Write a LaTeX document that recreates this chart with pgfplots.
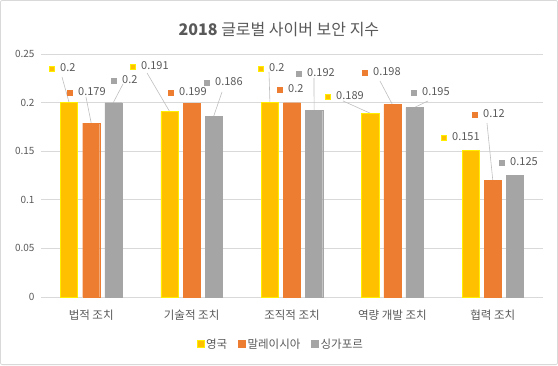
\documentclass[border=0pt]{standalone}
\usepackage{pgfplots}
\pgfplotsset{compat=1.18}
\usepackage{fontspec}
\setmainfont{Noto Sans CJK KR}
\definecolor{yel}{HTML}{FFC000}
\definecolor{ybd}{HTML}{FFEE00}
\definecolor{ora}{HTML}{ED7D31}
\definecolor{gry}{HTML}{A5A5A5}
\definecolor{txt}{HTML}{595959}
\definecolor{grd}{HTML}{D9D9D9}
\definecolor{lead}{HTML}{BFBFBF}
\newcommand{\sq}[1]{\textcolor{#1}{\rule{6pt}{6pt}}}
\newcommand{\ysq}{\textcolor{ybd}{\rule{6pt}{6pt}}\kern-5.2pt\raisebox{0.8pt}{\textcolor{yel}{\rule{4.4pt}{4.4pt}}}\kern0.8pt}
\begin{document}
\begin{tikzpicture}
\begin{axis}[name=ax,
  scale only axis, width=502pt, height=243pt,
  xmin=-0.5, xmax=4.5, ymin=0, ymax=0.25,
  enlargelimits=false, clip=false,
  xtick={0,1,2,3,4},
  xticklabels={법적 조치, 기술적 조치, 조직적 조치, 역량 개발 조치, 협력 조치},
  ytick={0,0.05,0.1,0.15,0.2,0.25},
  scaled y ticks=false,
  yticklabel style={/pgf/number format/fixed, /pgf/number format/precision=2},
  /pgf/number format/assume math mode=true,
  ymajorgrids, grid style={grd, line width=0.8pt},
  axis line style={draw=none},
  major tick length=0pt,
  tick label style={text=txt},
  xticklabel style={yshift=-9pt, font=\fontsize{11.5}{13}\selectfont},
  yticklabel style={xshift=-3pt, font=\fontsize{10}{12}\selectfont},
  title={\textbf{2018} 글로벌 사이버 보안 지수},
  title style={at={(0.474,1)}, anchor=center, yshift=18pt, font=\fontsize{16}{18}\selectfont, text=txt},
  legend style={at={(0.478,0)}, anchor=center, yshift=-47pt, draw=none, fill=none,
    legend columns=-1, font=\fontsize{11.5}{13}\selectfont, text=txt,
    /tikz/every even column/.append style={column sep=9pt}},
  legend image code/.code={\draw[#1, line width=0.6pt] (-2pt,-3.3pt) rectangle (4.6pt,3.3pt);},
  nodes near coords style={anchor=west, inner sep=0pt, xshift=-3pt, font=\fontsize{11}{13}\selectfont, text=txt},
]
% leader lines
\addplot[lead, line width=0.6pt, forget plot] coordinates {(-0.291,0.2264) (-0.22,0.2)};
\addplot[lead, line width=0.6pt, forget plot] coordinates {(-0.052,0.2058) (0,0.179)};
\addplot[lead, line width=0.6pt, forget plot] coordinates {(0.317,0.2192) (0.22,0.2)};
\addplot[lead, line width=0.6pt, forget plot] coordinates {(0.556,0.2305) (0.78,0.191)};
\addplot[lead, line width=0.6pt, forget plot] coordinates {(1.303,0.211) (1.22,0.186)};
\addplot[lead, line width=0.6pt, forget plot] coordinates {(1.771,0.2315) (1.78,0.2)};
\addplot[lead, line width=0.6pt, forget plot] coordinates {(2.219,0.2254) (2.22,0.192)};
\addplot[lead, line width=0.6pt, forget plot] coordinates {(2.508,0.2017) (2.78,0.189)};
\addplot[lead, line width=0.6pt, forget plot] coordinates {(2.876,0.2223) (3.0,0.198)};
\addplot[lead, line width=0.6pt, forget plot] coordinates {(3.355,0.2017) (3.22,0.195)};
\addplot[lead, line width=0.6pt, forget plot] coordinates {(3.942,0.179) (4.0,0.12)};
% bars
\addplot[ybar, bar width=0.17, bar shift=-0.22, fill=yel, draw=ybd, line width=0.6pt]
  coordinates {(0,0.2) (1,0.191) (2,0.2) (3,0.189) (4,0.151)};
\addlegendentry{영국}
\addplot[ybar, bar width=0.17, bar shift=0, fill=ora, draw=ora, line width=0.2pt]
  coordinates {(0,0.179) (1,0.199) (2,0.2) (3,0.198) (4,0.12)};
\addlegendentry{말레이시아}
\addplot[ybar, bar width=0.17, bar shift=0.22, fill=gry, draw=gry, line width=0.2pt]
  coordinates {(0,0.2) (1,0.186) (2,0.192) (3,0.195) (4,0.125)};
\addlegendentry{싱가포르}
% data labels
\addplot[draw=none, mark=none, forget plot, point meta=explicit symbolic,
  nodes near coords={\ysq\hspace{5pt}\pgfplotspointmeta}]
  coordinates {(-0.390,0.2356) [0.2] (0.416,0.2377) [0.191] (1.691,0.2356) [0.2] (2.359,0.2068) [0.189] (3.514,0.1646) [0.151]};
\addplot[draw=none, mark=none, forget plot, point meta=explicit symbolic,
  nodes near coords={\sq{ora}\hspace{5pt}\pgfplotspointmeta}]
  coordinates {(-0.211,0.211) [0.179] (0.795,0.211) [0.199] (1.880,0.214) [0.2] (2.727,0.2315) [0.198] (3.823,0.1883) [0.12]};
\addplot[draw=none, mark=none, forget plot, point meta=explicit symbolic,
  nodes near coords={\sq{gry}\hspace{5pt}\pgfplotspointmeta}]
  coordinates {(0.227,0.2233) [0.2] (1.153,0.2212) [0.186] (2.070,0.2305) [0.192] (3.215,0.211) [0.195] (4.092,0.1389) [0.125]};
\end{axis}
\draw[grd, line width=0.8pt, rounded corners=2pt] ([shift={(-40.6pt,-67.6pt)}]ax.south west) rectangle ([shift={(14.6pt,53.6pt)}]ax.north east);
\end{tikzpicture}
\end{document}
